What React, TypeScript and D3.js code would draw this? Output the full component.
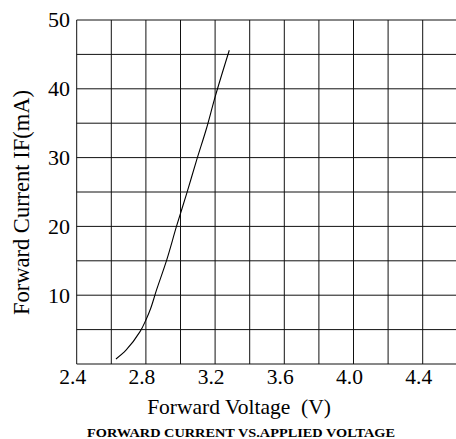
import React from "react";
import * as d3 from "d3";

const voltage = [2.627, 2.685, 2.766, 2.8, 2.828, 2.862, 2.92, 2.978, 3.036, 3.094, 3.151, 3.201, 3.282];
const current = [0.73, 2.0, 4.7, 6.4, 8.1, 10.8, 15.1, 20.1, 24.8, 29.7, 34.3, 38.9, 45.6];
const xTickLabels = ["2.4", "2.8", "3.2", "3.6", "4.0", "4.4"];
const yTickLabels = ["10", "20", "30", "40", "50"];
const xGrid = d3.range(0, 12).map((i) => 2.4 + i * 0.2);
const yGrid = d3.range(0, 11).map((i) => i * 5);

export default function App() {
  const W = 456, H = 439;
  const left = 76.7, top = 20, bottom = 364;
  const step = 34.6;
  const x = d3.scaleLinear().domain([2.4, 4.6]).range([left, left + 11 * step]);
  const y = d3.scaleLinear().domain([0, 50]).range([bottom, top]);
  const pts = voltage.map((v, i) => [x(v), y(current[i])] as [number, number]);
  const line = d3.line().curve(d3.curveCatmullRom.alpha(0.5))(pts) || "";
  const font = "'Liberation Serif', 'Times New Roman', serif";
  return (
    <svg width={W} height={H} style={{ position: "absolute", left: 0, top: 0 }}>
      <rect x={0} y={0} width={W} height={H} fill="#fff" />
      {xGrid.map((v, i) => (
        <line key={"vx" + i} x1={x(v)} x2={x(v)} y1={y(0)} y2={y(50)} stroke="#111" strokeWidth={1} />
      ))}
      {yGrid.map((v, i) => (
        <line key={"hy" + i} x1={x(2.4)} x2={x(4.6)} y1={y(v)} y2={y(v)} stroke="#111" strokeWidth={1} />
      ))}
      <path d={line} fill="none" stroke="#000" strokeWidth={1.1} />
      {yTickLabels.map((t) => (
        <text key={"yt" + t} x={70} y={y(+t)} dy="0.34em" textAnchor="end" fontFamily={font} fontSize={22} fill="#000">{t}</text>
      ))}
      {xTickLabels.map((t) => (
        <text key={"xt" + t} x={x(+t) - 4} y={383.5} textAnchor="middle" fontFamily={font} fontSize={21.5} fill="#000">{t}</text>
      ))}
      <text x={239} y={414.3} textAnchor="middle" fontFamily={font} fontSize={21.5} fill="#000" style={{ whiteSpace: "pre" }}>Forward Voltage  (V)</text>
      <text transform={`translate(28.5,202.5) rotate(-90)`} textAnchor="middle" fontFamily={font} fontSize={22.5} fill="#000">Forward Current IF(mA)</text>
      <text x={241} y={437} textAnchor="middle" fontFamily={font} fontSize={13.5} fontWeight="bold" fill="#000" textLength={308} lengthAdjust="spacingAndGlyphs">FORWARD CURRENT VS.APPLIED VOLTAGE</text>
    </svg>
  );
}
